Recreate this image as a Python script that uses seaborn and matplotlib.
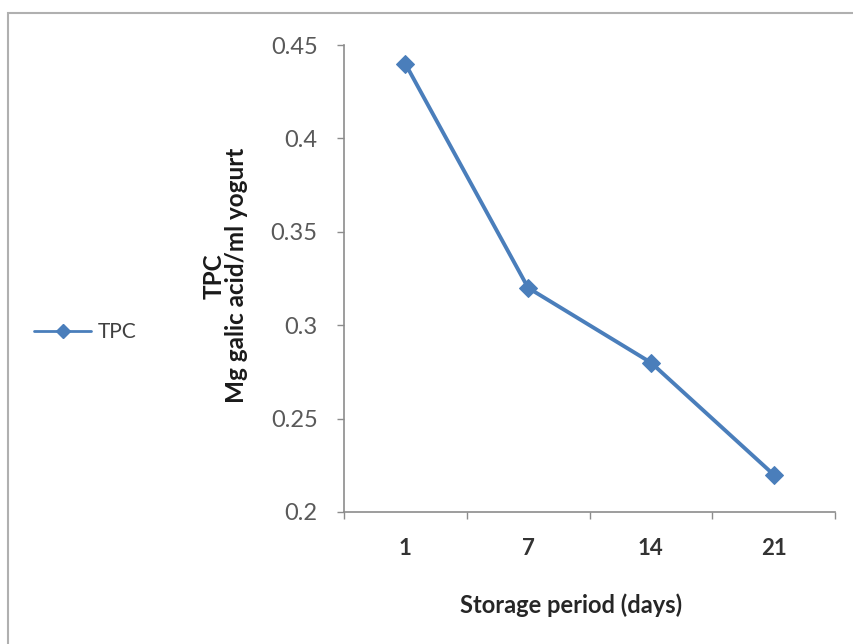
import pandas as pd
import seaborn as sns
import matplotlib.pyplot as plt
from matplotlib.patches import Rectangle
from matplotlib.lines import Line2D

# Data
days = ["1", "7", "14", "21"]
tpc = [0.44, 0.32, 0.28, 0.22]
y_ticks = [0.2, 0.25, 0.3, 0.35, 0.4, 0.45]
y_tick_labels = ["0.2", "0.25", "0.3", "0.35", "0.4", "0.45"]

LINE_COLOR = "#4a7ebb"
SPINE_COLOR = "#8c8c8c"


def main():
    '''
    Draw the TPC line chart and save to out.png
    '''
    sns.set_theme(style="white")
    plt.rcParams["font.family"] = ["Lato", "DejaVu Sans"]

    df = pd.DataFrame({"Storage period (days)": days, "TPC": tpc})
    df["pos"] = range(len(days))

    fig = plt.figure(figsize=(8.54, 6.44), dpi=100)
    ax = fig.add_axes([0.4028, 0.205, 0.575, 0.725])

    sns.lineplot(data=df, x="pos", y="TPC", ax=ax, color=LINE_COLOR,
                 linewidth=2.8, marker="D", markersize=9,
                 markeredgecolor=LINE_COLOR, label="TPC", legend=False)

    # Axis limits and ticks (category boundaries get tick marks)
    ax.set_xlim(-0.5, len(days) - 0.5)
    ax.set_ylim(0.2, 0.45)
    ax.set_xticks([i - 0.5 for i in range(len(days) + 1)])
    ax.set_xticklabels([])
    ax.set_xticks(df["pos"], minor=True)
    ax.set_xticklabels(days, minor=True, fontsize=16, fontweight="bold",
                       color="#333333")
    ax.tick_params(axis="x", which="major", direction="out", length=5,
                   color=SPINE_COLOR, width=1, bottom=True)
    ax.tick_params(axis="x", which="minor", length=0, pad=19, bottom=True)
    ax.set_yticks(y_ticks)
    ax.set_yticklabels(y_tick_labels, fontsize=17, color="#595959")
    ax.tick_params(axis="y", direction="out", length=5, color=SPINE_COLOR,
                   width=1, pad=14, left=True)

    sns.despine(ax=ax)
    for side in ["left", "bottom"]:
        ax.spines[side].set_color(SPINE_COLOR)
        ax.spines[side].set_linewidth(1.2)

    ax.set_xlabel("Storage period (days)", fontsize=17, fontweight="bold",
                  color="#262626")
    ax.xaxis.label.set_va("center")
    ax.xaxis.set_label_coords(0.462, -0.199)

    ax.set_ylabel("TPC\nMg galic acid/ml yogurt", fontsize=17.5,
                  fontweight="bold", color="#1a1a1a", linespacing=0.95)
    ax.yaxis.label.set_va("center")
    ax.yaxis.label.set_rotation_mode("default")
    ax.yaxis.set_label_coords(-0.242, 0.506)

    # Legend out on the left, no frame
    handle = Line2D([], [], color=LINE_COLOR, linewidth=2, marker="D",
                    markersize=7)
    fig.legend([handle], ["TPC"], loc="center left",
               bbox_to_anchor=(34 / 854, 1 - 332 / 644), frameon=False,
               fontsize=15, handlelength=2.75, handletextpad=0.3,
               borderpad=0, borderaxespad=0, labelcolor="#404040")

    # Gray frame round the chart area
    fig.patches.append(Rectangle((8 / 854, -0.05), 1.0, 1 - 13 / 644 + 0.05,
                                 transform=fig.transFigure, fill=False,
                                 edgecolor="#b0b0b0", linewidth=1.5))

    fig.savefig("out.png", dpi=100)


if __name__ == "__main__":
    main()
